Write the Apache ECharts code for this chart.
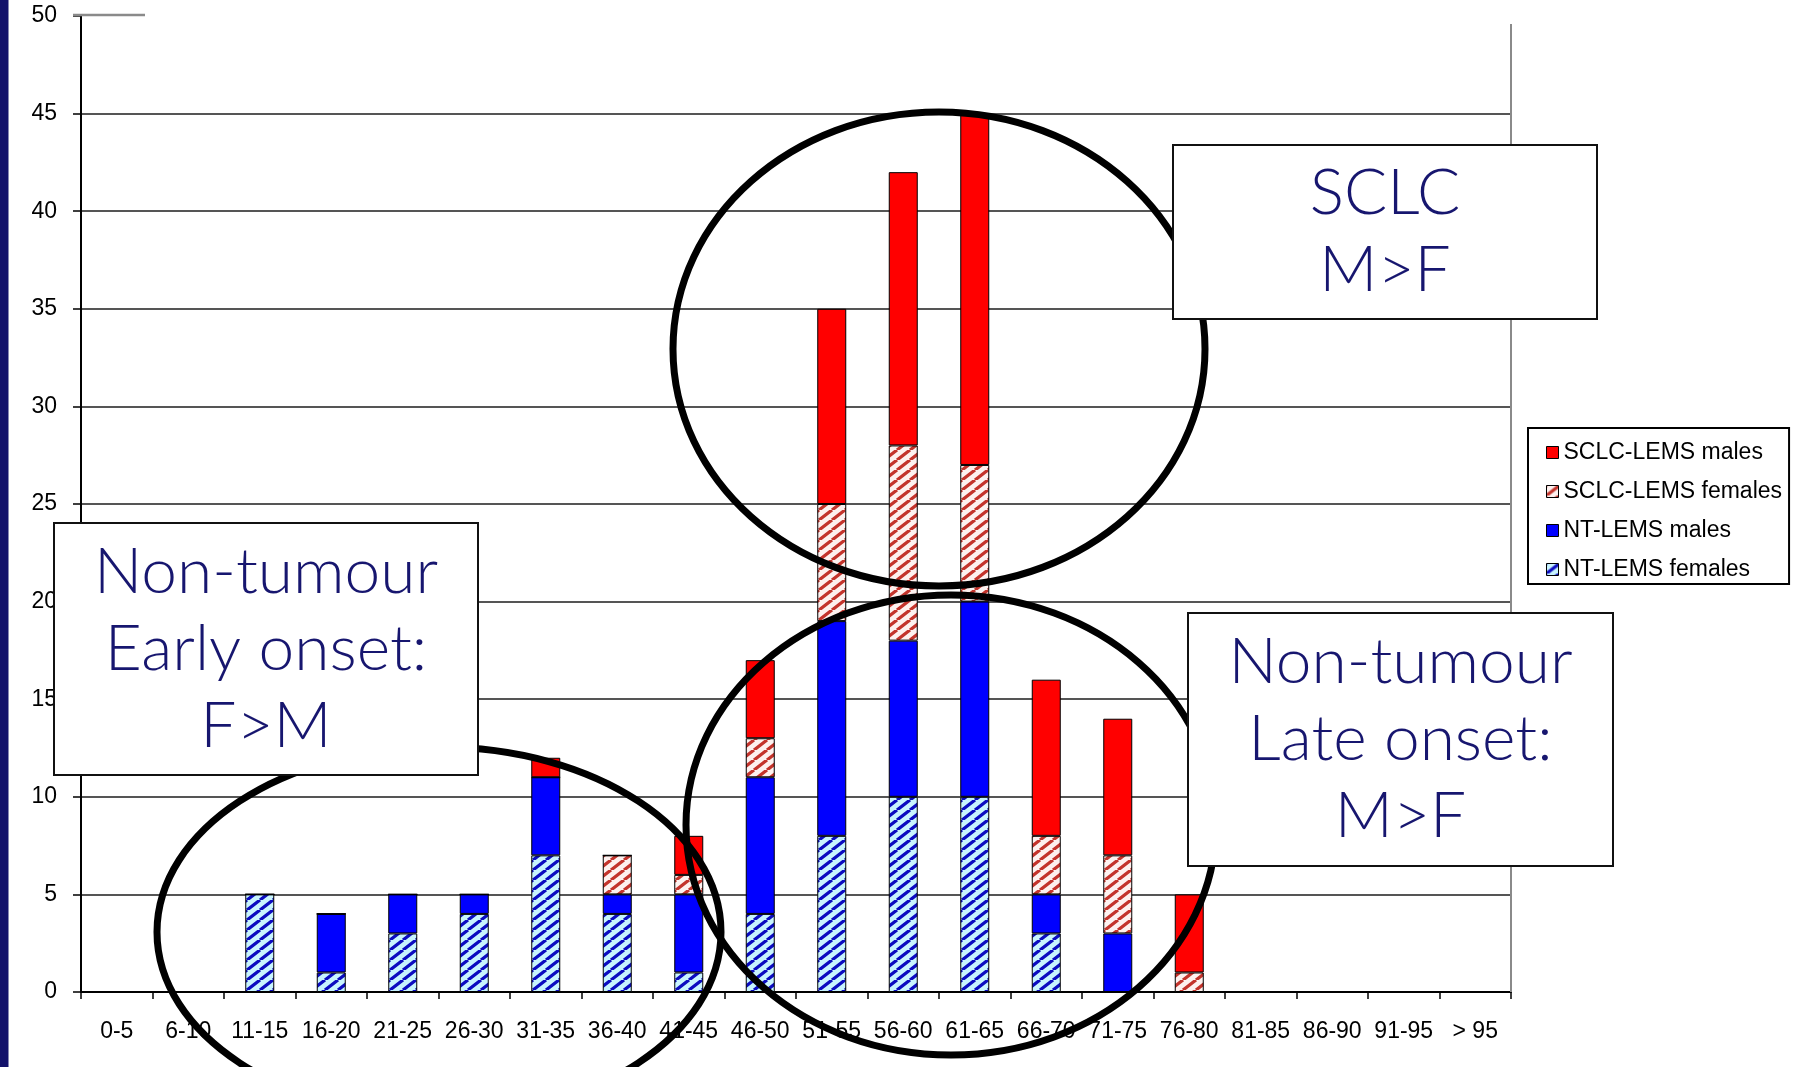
<!DOCTYPE html>
<html>
<head>
<meta charset="utf-8">
<script src="https://cdn.jsdelivr.net/npm/echarts@6/dist/echarts.min.js"></script>
<style>
  html, body { margin: 0; padding: 0; background: #fff; }
  #chart { width: 1794px; height: 1067px; }
</style>
</head>
<body>
<div id="chart"></div>
<script>
// Age at onset groups (years)
const ageGroups = ['0-5', '6-10', '11-15', '16-20', '21-25', '26-30', '31-35', '36-40', '41-45', '46-50',
                   '51-55', '56-60', '61-65', '66-70', '71-75', '76-80', '81-85', '86-90', '91-95', '> 95'];

// Number of patients per group
const ntFemales   = [0, 0, 5, 1, 3, 4, 7, 4, 1, 4,  8, 10, 10, 3, 0, 0, 0, 0, 0, 0];
const ntMales     = [0, 0, 0, 3, 2, 1, 4, 1, 4, 7, 11,  8, 10, 2, 3, 0, 0, 0, 0, 0];
const sclcFemales = [0, 0, 0, 0, 0, 0, 0, 2, 1, 2,  6, 10,  7, 3, 4, 1, 0, 0, 0, 0];
const sclcMales   = [0, 0, 0, 0, 0, 0, 1, 0, 2, 4, 10, 14, 18, 8, 7, 4, 0, 0, 0, 0];

const seriesNames = ['SCLC-LEMS males', 'SCLC-LEMS females', 'NT-LEMS males', 'NT-LEMS females'];

// y axis: 0..50 in steps of 5
const yMin = 0, yMax = 50, yStep = 5;

// diagonal "/" hatch tile (w x h) used as a repeating fill
function hatch(bg, fg, w, h, lw) {
  const c = document.createElement('canvas');
  c.width = w; c.height = h;
  const g = c.getContext('2d');
  g.fillStyle = bg;
  g.fillRect(0, 0, w, h);
  g.strokeStyle = fg;
  g.lineWidth = lw;
  g.beginPath();
  [-w, 0, w].forEach(o => { g.moveTo(o, h); g.lineTo(o + w, 0); });
  g.stroke();
  return c;
}

const blueHatch = { image: hatch('#c8f4fe', '#0c0cc0', 13, 10, 3.3), repeat: 'repeat' };
const redHatch  = { image: hatch('#fdf1ef', '#c3342c', 13, 10, 3.3), repeat: 'repeat' };

const chart = echarts.init(document.getElementById('chart'), null, { renderer: 'canvas' });

const labelFont = "'Liberation Sans', Arial, sans-serif";
const boxFont = "Lato, 'Open Sans', sans-serif";
const navy = '#17166f';

const gridLeft = 81, gridRight = 283, gridTop = 16, gridBottom = 75;
const W = 1794, H = 1067;

// grid lines: every step except the top one
const nLines = (yMax - yMin) / yStep + 1;
const splitColors = [];
for (let i = 0; i < nLines; i++) splitColors.push(i === nLines - 1 ? 'rgba(0,0,0,0)' : '#1c1c1c');

function bar(name, data, color) {
  return {
    name, type: 'bar', stack: 'total', data, barWidth: 29,
    itemStyle: { color, borderColor: '#000', borderWidth: 1 },
    emphasis: { disabled: true }
  };
}

function textBox(x, y, w, h, lines) {
  return [
    { type: 'rect', z: 110, shape: { x, y, width: w, height: h },
      style: { fill: '#fff', stroke: '#111', lineWidth: 2 } },
    { type: 'text', z: 111, x: x + w / 2, y: y + h / 2,
      style: { text: lines.join('\n'), fill: navy, font: `300 64px ${boxFont}`,
               lineHeight: 77, align: 'center', verticalAlign: 'middle' } }
  ];
}

const option = {
  animation: false,
  backgroundColor: '#fff',
  grid: { left: gridLeft, right: gridRight, top: gridTop, bottom: gridBottom, containLabel: false },
  legend: {
    orient: 'vertical', left: 1528, top: 428,
    data: seriesNames,
    icon: 'rect', itemWidth: 12, itemHeight: 12, itemGap: 16,
    padding: [13, 7, 3, 18],
    borderColor: '#000', borderWidth: 2,
    itemStyle: { borderColor: '#000', borderWidth: 1 },
    textStyle: { fontFamily: labelFont, fontSize: 23, color: '#000' },
    selectedMode: false
  },
  xAxis: {
    type: 'category', data: ageGroups,
    axisLine: { lineStyle: { color: '#000', width: 2 } },
    axisTick: { show: true, length: 7, lineStyle: { color: '#000', width: 1.5 } },
    axisLabel: { interval: 0, margin: 28, fontFamily: labelFont, fontSize: 23, color: '#000' },
    splitLine: { show: false }
  },
  yAxis: {
    type: 'value', min: yMin, max: yMax, interval: yStep,
    axisLine: { show: true, lineStyle: { color: '#000', width: 2 } },
    axisTick: { show: true, length: 8, lineStyle: { color: '#000', width: 1.5 } },
    axisLabel: { margin: 24, fontFamily: labelFont, fontSize: 23, color: '#000' },
    splitLine: { show: true, lineStyle: { color: splitColors, width: 1.5 } }
  },
  series: [
    bar('NT-LEMS females', ntFemales, blueHatch),
    bar('NT-LEMS males', ntMales, '#0000ff'),
    bar('SCLC-LEMS females', sclcFemales, redHatch),
    bar('SCLC-LEMS males', sclcMales, '#ff0000')
  ],
  graphic: [
    // slide edge band
    { type: 'rect', z: 120, shape: { x: 0, y: 0, width: 8.5, height: H }, style: { fill: '#13116b' } },
    // plot area right border and top stub
    { type: 'line', z: 1, shape: { x1: W - gridRight, y1: 24, x2: W - gridRight, y2: H - gridBottom },
      style: { stroke: '#8a8a8a', lineWidth: 2 } },
    { type: 'line', z: 1, shape: { x1: 73, y1: gridTop - 1, x2: 145, y2: gridTop - 1 },
      style: { stroke: '#8a8a8a', lineWidth: 2.5 } },
    // grouping ellipses
    { type: 'ellipse', z: 100, shape: { cx: 939, cy: 349, rx: 266, ry: 237 },
      style: { fill: null, stroke: '#000', lineWidth: 7 } },
    { type: 'ellipse', z: 100, shape: { cx: 951, cy: 825, rx: 265, ry: 230 },
      style: { fill: null, stroke: '#000', lineWidth: 7 } },
    { type: 'ellipse', z: 100, shape: { cx: 439, cy: 932, rx: 282, ry: 185 },
      style: { fill: null, stroke: '#000', lineWidth: 7 } },
    ...textBox(1173, 145, 424, 174, ['SCLC', 'M>F']),
    ...textBox(54, 523, 424, 252, ['Non-tumour', 'Early onset:', 'F>M']),
    ...textBox(1188, 613, 425, 253, ['Non-tumour', 'Late onset:', 'M>F'])
  ]
};

chart.setOption(option);
</script>
</body>
</html>
